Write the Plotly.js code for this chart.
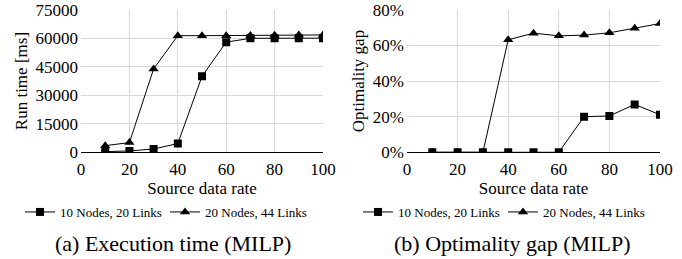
<!DOCTYPE html>
<html><head><meta charset="utf-8">
<script src="https://cdn.plot.ly/plotly-3.0.1.min.js"></script>
<style>body{margin:0;background:#fff}#c{width:682px;height:259px}</style>
</head><body><div id="c"></div>
<script>
const rates = [10,20,30,40,50,60,70,80,90,100];
const runTime10 = [350,700,1750,4600,40000,58000,60000,60000,60100,60100];
const runTime20 = [3500,5100,43900,61400,61400,61400,61500,61600,61700,61800];
const gap10 = [0,0,0,0,0,0,20.0,20.4,26.9,21.1];
const gap20 = [0,0,0,63.2,66.9,65.4,65.8,67.1,69.7,72.3];
const name10 = '10 Nodes, 20 Links';
const name20 = '20 Nodes, 44 Links';

const F = 'Liberation Serif';
const line = {color:'#000', width:1};
function tr(x,y,name,sym,xa,ya,lg){
  return {x:x,y:y,name:name,type:'scatter',mode:'lines+markers',xaxis:xa,yaxis:ya,legend:lg,
    line:line,marker:{symbol:sym,size:sym==='square'?8:9,color:'#000'}};
}
const data = [
  tr(rates,runTime10,name10,'square','x','y','legend'),
  tr(rates,runTime20,name20,'triangle-up','x','y','legend'),
  tr(rates,gap10,name10,'square','x2','y2','legend2'),
  tr(rates,gap20,name20,'triangle-up','x2','y2','legend2')
];
const xcommon = {range:[0,100],dtick:20,tick0:0,showgrid:true,gridcolor:'#d9d9d9',gridwidth:1,
  zeroline:false,showline:false,ticks:'',ticklabelstandoff:5,tickfont:{family:F,size:17,color:'#000'},
  title:{text:'Source data rate',font:{family:F,size:17,color:'#000'},standoff:3},fixedrange:true};
const ycommon = {showgrid:true,gridcolor:'#d9d9d9',gridwidth:1,zeroline:true,zerolinecolor:'#000',zerolinewidth:1,
  showline:false,ticks:'',ticklabelstandoff:2,tickfont:{family:F,size:17,color:'#000'}};
const legCommon = {orientation:'h',xanchor:'left',y:1-212/259,yanchor:'middle',
  font:{family:F,size:13,color:'#000'},itemwidth:30,entrywidth:100,entrywidthmode:'pixels',bgcolor:'rgba(0,0,0,0)'};
const layout = {
  font:{family:F,color:'#000'},
  width:682,height:259,margin:{l:0,r:0,t:0,b:0,autoexpand:false},paper_bgcolor:'#fff',plot_bgcolor:'#fff',
  showlegend:true,
  xaxis:Object.assign({},xcommon,{domain:[0.1188,0.4736],anchor:'y'}),
  yaxis:Object.assign({},ycommon,{domain:[0.412,0.962],anchor:'x',range:[0,75000],dtick:15000,tickformat:'d',
    title:{text:'Run time [ms]',font:{family:F,size:17,color:'#000'},standoff:3}}),
  xaxis2:Object.assign({},xcommon,{domain:[0.5968,0.9677],anchor:'y2'}),
  yaxis2:Object.assign({},ycommon,{domain:[0.412,0.962],anchor:'x2',range:[0,80],dtick:20,ticksuffix:'%',
    title:{text:'Optimality gap',font:{family:F,size:17,color:'#000'},standoff:3}}),
  legend:Object.assign({},legCommon,{x:20/682}),
  legend2:Object.assign({},legCommon,{x:358/682}),
  annotations:[
    {text:'(a) Execution time (MILP)',x:0.253,y:1-243/259,xref:'paper',yref:'paper',showarrow:false,
     yanchor:'middle',xanchor:'center',font:{family:F,size:22,color:'#000'}},
    {text:'(b) Optimality gap (MILP)',x:0.75,y:1-243/259,xref:'paper',yref:'paper',showarrow:false,
     yanchor:'middle',xanchor:'center',font:{family:F,size:22,color:'#000'}}
  ]
};
Plotly.newPlot('c',data,layout,{displayModeBar:false,staticPlot:true});
</script></body></html>
